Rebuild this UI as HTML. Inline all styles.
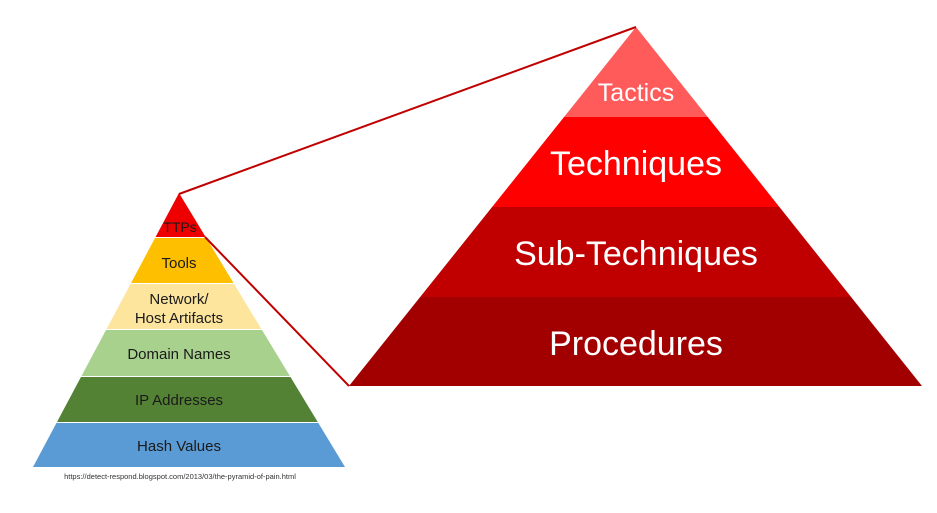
<!DOCTYPE html>
<html><head><meta charset="utf-8"><style>html,body{margin:0;padding:0;background:#fff;}svg{display:block}</style></head>
<body>
<svg width="937" height="513" viewBox="0 0 937 513" xmlns="http://www.w3.org/2000/svg" font-family="'Liberation Sans', sans-serif">
<defs>
<clipPath id="big"><polygon points="636,27 349,386 922,386"/></clipPath>
<clipPath id="small"><polygon points="179,193 33,467 345,467"/></clipPath>
</defs>
<g clip-path="url(#big)">
<rect x="340" y="20" width="600" height="97" fill="#ff5b5b"/>
<rect x="340" y="117" width="600" height="90" fill="#ff0000"/>
<rect x="340" y="207" width="600" height="90" fill="#c00000"/>
<rect x="340" y="297" width="600" height="90" fill="#a20000"/>
</g>
<g fill="#fff" text-anchor="middle">
<text x="636" y="101" font-size="25">Tactics</text>
<text x="636" y="175" font-size="34">Techniques</text>
<text x="636" y="265" font-size="34">Sub-Techniques</text>
<text x="636" y="355" font-size="34">Procedures</text>
</g>
<g clip-path="url(#small)">
<rect x="30" y="190" width="320" height="47" fill="#ee0000"/>
<rect x="30" y="238" width="320" height="45" fill="#fdbf00"/>
<rect x="30" y="284" width="320" height="45" fill="#fde59e"/>
<rect x="30" y="330" width="320" height="46" fill="#a9d18e"/>
<rect x="30" y="377" width="320" height="45" fill="#548235"/>
<rect x="30" y="423" width="320" height="45" fill="#5b9bd5"/>
</g>
<g fill="#1a1a1a" text-anchor="middle" font-size="15">
<text x="180" y="232" font-size="14">TTPs</text>
<text x="179" y="268">Tools</text>
<text x="179" y="304">Network/</text>
<text x="179" y="323">Host Artifacts</text>
<text x="179" y="359">Domain Names</text>
<text x="179" y="405">IP Addresses</text>
<text x="179" y="451">Hash Values</text>
</g>
<text x="180" y="479" font-size="7.5" text-anchor="middle" fill="#333">https://detect-respond.blogspot.com/2013/03/the-pyramid-of-pain.html</text>
<g stroke="#c00000" stroke-width="2" fill="none">
<line x1="179" y1="194" x2="636" y2="27"/>
<line x1="205" y1="237" x2="349" y2="386"/>
</g>
</svg>
</body></html>
